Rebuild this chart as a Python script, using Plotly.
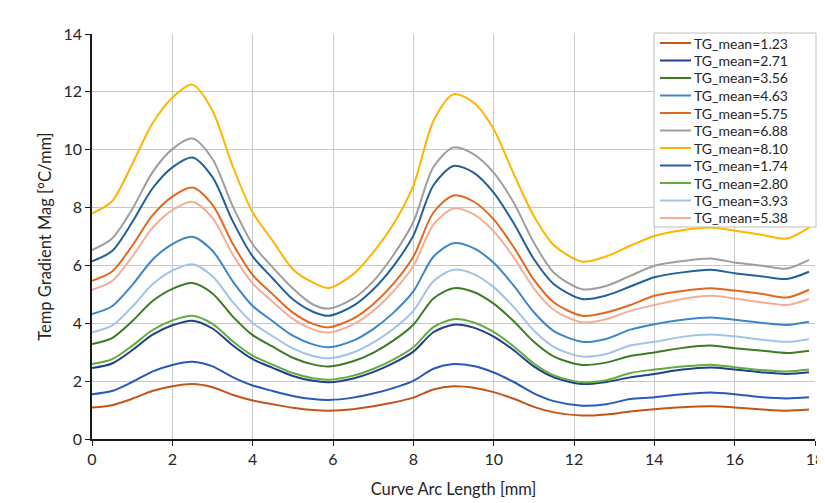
import plotly.graph_objects as go

arc_mm = [0, 0.5, 1, 1.5, 2, 2.5, 3, 3.5, 4, 4.5, 5, 5.5, 5.9, 6.5, 7, 7.5, 8, 8.5, 9,
          9.5, 10, 10.5, 11, 11.5, 12.2, 12.8, 13.4, 14, 14.7, 15.4, 16, 16.7, 17.3, 17.85]

tg_1_23 = [1.09, 1.17, 1.39, 1.66, 1.82, 1.90, 1.79, 1.53, 1.33, 1.20, 1.08, 1.00, 0.98, 1.03, 1.13, 1.26, 1.43, 1.71, 1.82,
           1.77, 1.62, 1.39, 1.11, 0.92, 0.81, 0.85, 0.95, 1.03, 1.10, 1.13, 1.09, 1.02, 0.98, 1.02]
tg_2_71 = [2.45, 2.61, 3.07, 3.60, 3.93, 4.09, 3.82, 3.24, 2.76, 2.46, 2.18, 2.01, 1.96, 2.09, 2.31, 2.62, 3.02, 3.69, 3.95,
           3.85, 3.54, 3.07, 2.51, 2.13, 1.90, 1.97, 2.13, 2.25, 2.40, 2.47, 2.40, 2.30, 2.25, 2.31]
tg_3_56 = [3.28, 3.49, 4.07, 4.76, 5.19, 5.39, 5.03, 4.24, 3.59, 3.19, 2.81, 2.58, 2.51, 2.69, 2.98, 3.40, 3.95, 4.86, 5.21,
           5.08, 4.68, 4.07, 3.36, 2.85, 2.56, 2.64, 2.87, 2.99, 3.15, 3.23, 3.14, 3.05, 2.97, 3.05]
tg_4_63 = [4.32, 4.59, 5.32, 6.19, 6.74, 6.99, 6.51, 5.46, 4.60, 4.07, 3.57, 3.27, 3.17, 3.40, 3.80, 4.36, 5.10, 6.30, 6.77,
           6.60, 6.09, 5.30, 4.38, 3.73, 3.36, 3.46, 3.78, 3.97, 4.12, 4.20, 4.12, 4.01, 3.94, 4.05]
tg_5_75 = [5.47, 5.79, 6.68, 7.72, 8.38, 8.69, 8.09, 6.76, 5.67, 5.00, 4.37, 3.98, 3.86, 4.16, 4.66, 5.36, 6.30, 7.83, 8.42,
           8.21, 7.59, 6.63, 5.51, 4.72, 4.26, 4.37, 4.63, 4.95, 5.12, 5.21, 5.13, 5.01, 4.89, 5.16]
tg_6_88 = [6.53, 6.93, 7.94, 9.21, 10.02, 10.39, 9.68, 8.06, 6.73, 5.93, 5.20, 4.65, 4.51, 4.85, 5.45, 6.35, 7.50, 9.40, 10.08,
           9.85, 9.21, 8.17, 6.79, 5.75, 5.18, 5.29, 5.64, 5.99, 6.15, 6.24, 6.10, 5.99, 5.89, 6.19]
tg_8_10 = [7.80, 8.22, 9.50, 10.90, 11.80, 12.25, 11.35, 9.44, 7.83, 6.85, 5.87, 5.41, 5.22, 5.69, 6.45, 7.42, 8.75, 10.99, 11.92,
           11.63, 10.71, 9.16, 7.71, 6.70, 6.13, 6.31, 6.68, 7.02, 7.22, 7.31, 7.20, 7.05, 6.93, 7.31]
tg_1_74 = [1.55, 1.66, 1.97, 2.33, 2.56, 2.67, 2.51, 2.14, 1.85, 1.66, 1.49, 1.38, 1.35, 1.43, 1.57, 1.76, 2.01, 2.43, 2.59,
           2.52, 2.30, 1.97, 1.58, 1.31, 1.15, 1.20, 1.38, 1.44, 1.55, 1.61, 1.55, 1.44, 1.40, 1.44]
tg_2_80 = [2.59, 2.76, 3.22, 3.76, 4.10, 4.26, 3.98, 3.38, 2.88, 2.57, 2.28, 2.10, 2.05, 2.19, 2.42, 2.74, 3.17, 3.87, 4.14,
           4.03, 3.70, 3.20, 2.61, 2.20, 1.96, 2.03, 2.28, 2.40, 2.51, 2.57, 2.48, 2.38, 2.33, 2.40]
tg_3_93 = [3.69, 3.92, 4.57, 5.34, 5.82, 6.04, 5.63, 4.74, 4.01, 3.55, 3.13, 2.87, 2.79, 2.99, 3.33, 3.80, 4.43, 5.45, 5.85,
           5.70, 5.25, 4.56, 3.75, 3.18, 2.85, 2.94, 3.23, 3.36, 3.53, 3.61, 3.55, 3.43, 3.36, 3.45]
tg_5_38 = [5.16, 5.46, 6.30, 7.29, 7.91, 8.20, 7.64, 6.39, 5.38, 4.74, 4.15, 3.79, 3.68, 3.96, 4.43, 5.10, 5.98, 7.41, 7.97,
           7.77, 7.18, 6.28, 5.21, 4.46, 4.03, 4.14, 4.43, 4.63, 4.84, 4.95, 4.86, 4.72, 4.63, 4.84]
tg_hidden = [6.14, 6.50, 7.49, 8.65, 9.39, 9.73, 9.05, 7.54, 6.31, 5.55, 4.83, 4.40, 4.26, 4.60, 5.17, 5.97, 7.03, 8.77, 9.44,
             9.21, 8.52, 7.46, 6.22, 5.35, 4.84, 4.96, 5.27, 5.59, 5.76, 5.85, 5.73, 5.62, 5.53, 5.78]

series_names = ["TG_mean=1.23", "TG_mean=2.71", "TG_mean=3.56", "TG_mean=4.63", "TG_mean=5.75",
                "TG_mean=6.88", "TG_mean=8.10", "TG_mean=1.74", "TG_mean=2.80", "TG_mean=3.93",
                "TG_mean=5.38", "TG_mean=6.45"]
series_values = [tg_1_23, tg_2_71, tg_3_56, tg_4_63, tg_5_75, tg_6_88, tg_8_10,
                 tg_1_74, tg_2_80, tg_3_93, tg_5_38, tg_hidden]
series_colors = ["#C0561A", "#203F8C", "#3E7B24", "#3D86C8", "#E2681F", "#9E9E9E", "#FFB400",
                 "#2A58B8", "#62AB3D", "#A2C3E8", "#F2AE98", "#22609C"]
series_in_legend = [True] * 11 + [False]

x_ticks = [0, 2, 4, 6, 8, 10, 12, 14, 16, 18]
y_ticks = [0, 2, 4, 6, 8, 10, 12, 14]

FONT = "Lato, 'Open Sans', sans-serif"
TXT = "#262626"

# the page body adds an 8px offset, so the figure is sized to fit the 825x503 window
OFF = 8
W, H = 825 - OFF, 503 - OFF
ML, MR, MT, MB = 92 - OFF, 10, 34 - OFF, 64
PW, PH = W - ML - MR, H - MT - MB


def px_x(px):
    return (px - OFF - ML) / PW


def px_y(py):
    return (H - MB - (py - OFF)) / PH


fig = go.Figure()
for name, vals, col in zip(series_names, series_values, series_colors):
    fig.add_trace(go.Scatter(
        x=arc_mm, y=vals, name=name, mode="lines", showlegend=False,
        line=dict(color=col, width=2, shape="spline", smoothing=0.8),
    ))

# legend drawn as box + sample lines + text (Excel-like compact spacing)
shapes = [dict(type="rect", xref="paper", yref="paper", layer="above",
               x0=px_x(654), x1=px_x(816), y0=px_y(227), y1=px_y(33),
               fillcolor="white", line=dict(color="#BFBFBF", width=1))]
annotations = []
row = 0
for name, col, show in zip(series_names, series_colors, series_in_legend):
    if not show:
        continue
    cy = 43 + 17.5 * row
    shapes.append(dict(type="line", xref="paper", yref="paper", layer="above",
                       x0=px_x(660), x1=px_x(691), y0=px_y(cy), y1=px_y(cy),
                       line=dict(color=col, width=2)))
    annotations.append(dict(xref="paper", yref="paper", x=px_x(692), y=px_y(cy),
                            xanchor="left", yanchor="middle", showarrow=False,
                            text=name, font=dict(family=FONT, size=14, color=TXT)))
    row += 1

fig.update_layout(
    width=W, height=H,
    margin=dict(l=ML, r=MR, t=MT, b=MB),
    paper_bgcolor="white", plot_bgcolor="white",
    font=dict(family=FONT, size=16, color=TXT),
    showlegend=False,
    shapes=shapes, annotations=annotations,
    xaxis=dict(
        range=[0, 18], tickvals=x_ticks, ticktext=[str(v) for v in x_ticks],
        showgrid=True, gridcolor="#C8C8C8", gridwidth=1,
        showline=True, linecolor="#1A1A1A", linewidth=1.5,
        ticks="outside", ticklen=5, tickcolor="#1A1A1A",
        zeroline=False, automargin=False,
        title=dict(text="Curve Arc Length [mm]", font=dict(family=FONT, size=16.5, color=TXT), standoff=16),
        tickfont=dict(family=FONT, size=16, color=TXT),
    ),
    yaxis=dict(
        range=[0, 14], tickvals=y_ticks, ticktext=[str(v) for v in y_ticks],
        showgrid=True, gridcolor="#C8C8C8", gridwidth=1,
        showline=True, linecolor="#1A1A1A", linewidth=1.5,
        ticks="outside", ticklen=5, tickcolor="#1A1A1A",
        zeroline=False, automargin=False,
        title=dict(text="Temp Gradient Mag [°C/mm]", font=dict(family=FONT, size=16.5, color=TXT), standoff=8),
        tickfont=dict(family=FONT, size=16, color=TXT),
    ),
)

fig.write_html("out.html")
